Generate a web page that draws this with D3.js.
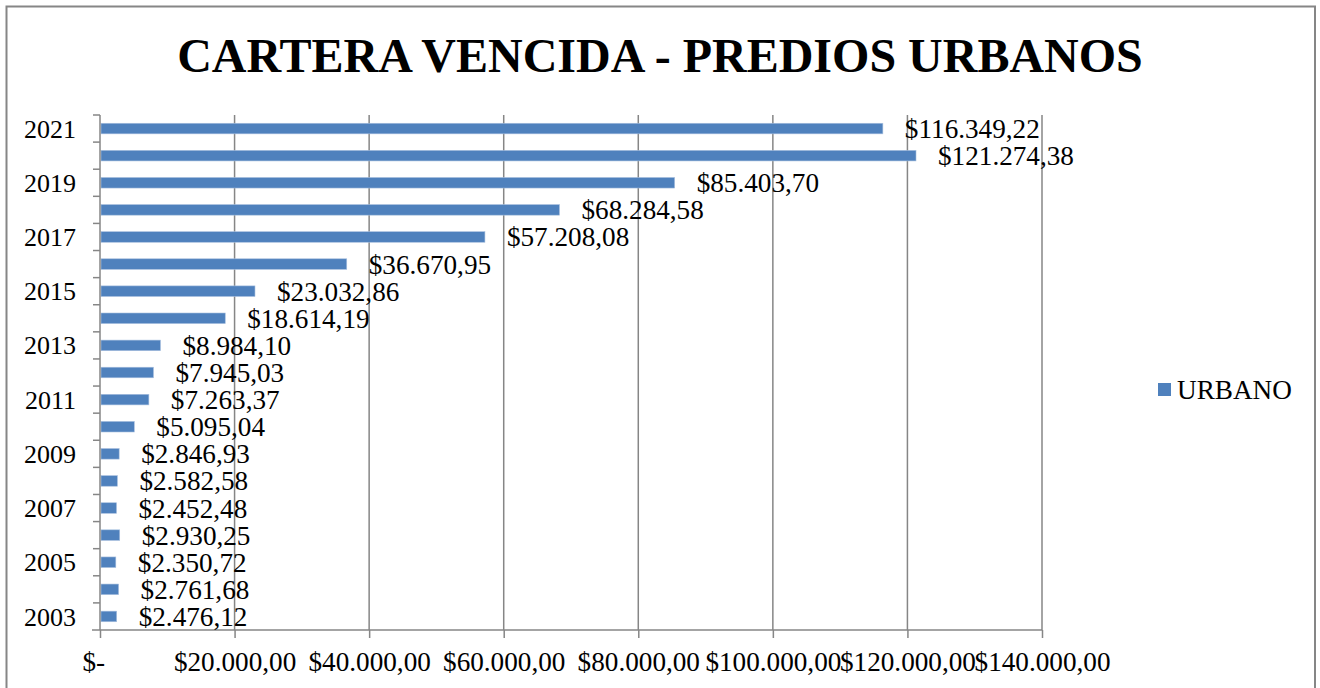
<!DOCTYPE html>
<html>
<head>
<meta charset="utf-8">
<script src="https://cdn.jsdelivr.net/npm/d3@7"></script>
<style>
  html, body { margin: 0; padding: 0; background: #fff; }
  svg { display: block; font-family: "Liberation Serif", "Times New Roman", serif; }
</style>
</head>
<body>
<svg id="chart" width="1320" height="688"></svg>
<script>
const title = "CARTERA VENCIDA - PREDIOS URBANOS";
const seriesName = "URBANO";
const years = [2003, 2004, 2005, 2006, 2007, 2008, 2009, 2010, 2011, 2012, 2013, 2014, 2015, 2016, 2017, 2018, 2019, 2020, 2021];
const values = [2476.12, 2761.68, 2350.72, 2930.25, 2452.48, 2582.58, 2846.93, 5095.04, 7263.37, 7945.03, 8984.10, 18614.19, 23032.86, 36670.95, 57208.08, 68284.58, 85403.70, 121274.38, 116349.22];
const yearLabels = [2003, 2005, 2007, 2009, 2011, 2013, 2015, 2017, 2019, 2021];
const xTicks = [0, 20000, 40000, 60000, 80000, 100000, 120000, 140000];

const data = years.map((y, i) => ({ year: y, value: values[i] }));

const locale = d3.formatLocale({ decimal: ",", thousands: ".", grouping: [3], currency: ["$", ""] });
const fmt = locale.format("$,.2f");
const tickFmt = v => v === 0 ? "$-\u00a0\u00a0" : fmt(v);

const svg = d3.select("#chart");
const pLeft = 100, pRight = 1042, pTop = 115, pBottom = 630;
const gridColor = "#868686";
const barColor = "#4f81bd";
const fontSize = 27.2;
const yearFontSize = 26;

// outer border
svg.append("rect").attr("x", 6.5).attr("y", 6.5).attr("width", 1308.5).attr("height", 700)
  .attr("fill", "#fff").attr("stroke", gridColor).attr("stroke-width", 2);

// title
svg.append("text").attr("x", 660).attr("y", 72).attr("text-anchor", "middle")
  .attr("font-size", 48).attr("font-weight", "bold").attr("fill", "#000").text(title);

const x = d3.scaleLinear().domain([0, 140000]).range([pLeft, pRight]);
const y = d3.scaleBand().domain(years.slice().reverse()).range([pTop, pBottom]).padding(0);
const barH = y.bandwidth() * 0.39;

// gridlines
svg.append("g").selectAll("line").data(xTicks.filter(t => t > 0)).join("line")
  .attr("x1", d => x(d)).attr("x2", d => x(d))
  .attr("y1", pTop).attr("y2", pBottom)
  .attr("stroke", gridColor).attr("stroke-width", 1.5);

// bars
svg.append("g").selectAll("rect").data(data).join("rect")
  .attr("x", x(0) + 1)
  .attr("y", d => y(d.year) + (y.bandwidth() - barH) / 2)
  .attr("width", d => x(d.value) - x(0) - 1)
  .attr("height", barH)
  .attr("fill", barColor)
  .attr("stroke", "#a7bfde").attr("stroke-width", 0.6);

// x axis
const xAxis = svg.append("g").attr("transform", `translate(0,${pBottom})`)
  .call(d3.axisBottom(x).tickValues(xTicks).tickSize(8).tickPadding(14).tickFormat(tickFmt));
xAxis.select(".domain").remove();
xAxis.selectAll(".tick line").attr("stroke", gridColor).attr("stroke-width", 1.5);
xAxis.selectAll(".tick text").attr("font-size", fontSize).attr("font-family", "Liberation Serif, Times New Roman, serif").attr("fill", "#000");
svg.append("line").attr("x1", pLeft - 8).attr("x2", pRight).attr("y1", pBottom).attr("y2", pBottom)
  .attr("stroke", gridColor).attr("stroke-width", 1.5);

// y axis line
svg.append("line").attr("x1", pLeft).attr("x2", pLeft).attr("y1", pTop).attr("y2", pBottom)
  .attr("stroke", gridColor).attr("stroke-width", 1.5);
// y ticks at band boundaries
svg.append("g").selectAll("line").data(years).join("line")
  .attr("x1", pLeft - 7).attr("x2", pLeft)
  .attr("y1", d => y(d)).attr("y2", d => y(d))
  .attr("stroke", gridColor).attr("stroke-width", 1.5);
// y labels
svg.append("g").selectAll("text").data(yearLabels).join("text")
  .attr("x", pLeft - 24).attr("y", d => y(d) + y.bandwidth() / 2)
  .attr("dy", "0.35em").attr("text-anchor", "end")
  .attr("font-size", yearFontSize).attr("fill", "#000").text(d => d);

// value labels
svg.append("g").selectAll("text").data(data).join("text")
  .attr("x", d => x(d.value) + 22).attr("y", d => y(d.year) + y.bandwidth() / 2)
  .attr("dy", "0.35em").attr("font-size", fontSize).attr("fill", "#000")
  .text(d => fmt(d.value));

// legend
const lg = svg.append("g").attr("transform", "translate(1158,383)");
lg.append("rect").attr("width", 13).attr("height", 13).attr("fill", barColor);
lg.append("text").attr("x", 19).attr("y", 6.5).attr("dy", "0.35em")
  .attr("font-size", fontSize).attr("fill", "#000").text(seriesName);
</script>
</body>
</html>
